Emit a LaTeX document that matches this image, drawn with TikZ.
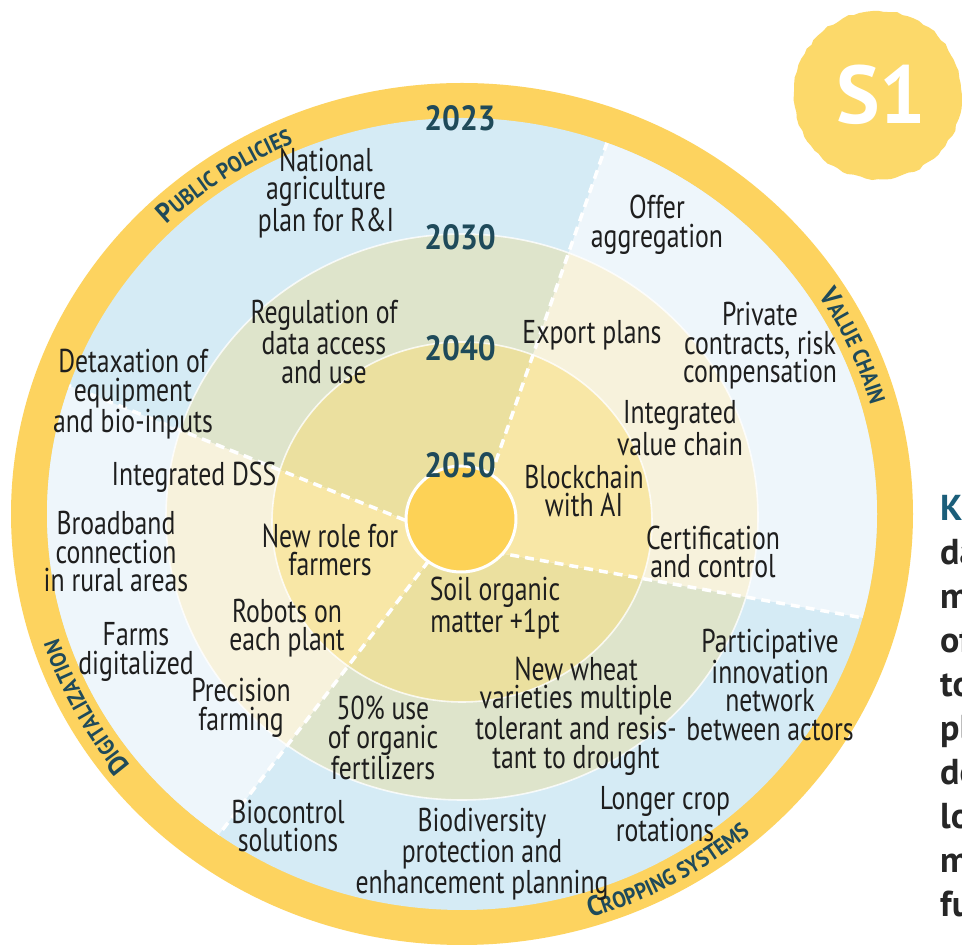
\documentclass[tikz,border=0pt]{standalone}
\usepackage{fontspec}
\setmainfont[FakeStretch=0.78]{PT Sans}
\newfontfamily\yearfont[FakeStretch=0.9]{PT Sans}
\newfontfamily\parafont{PT Sans}
\usetikzlibrary{decorations.text,decorations.pathmorphing}
\definecolor{ringY}{HTML}{FDD35F}
\definecolor{bubbleY}{HTML}{FCD96A}
\definecolor{ppA}{HTML}{D5EBF5}
\definecolor{ppB}{HTML}{DEE4CB}
\definecolor{ppC}{HTML}{EBE09F}
\definecolor{vcA}{HTML}{EEF6FB}
\definecolor{vcB}{HTML}{F7F2DC}
\definecolor{vcC}{HTML}{F8E7A6}
\definecolor{diskY}{HTML}{FDD256}
\definecolor{bodytext}{HTML}{1E1E1E}
\definecolor{yearcol}{HTML}{1F4A5A}
\definecolor{kcol}{HTML}{1B5E7A}
\newcommand\rfbig{\yearfont\bfseries\fontsize{28}{28}\selectfont}
\newcommand\rfsmall{\yearfont\bfseries\fontsize{22.5}{22.5}\selectfont}
\begin{document}
\begin{tikzpicture}[x=1pt,y=1pt,
  txt/.style={align=center, text=bodytext, font=\fontsize{33}{28.5}\selectfont, inner sep=0pt},
  yr/.style={text=yearcol, font=\yearfont\bfseries\fontsize{35}{35}\selectfont, inner sep=0pt},
  bandline/.style={draw=white, line width=1.6pt, opacity=0.8},
  sepline/.style={draw=white, line width=3.5pt, dash pattern=on 9pt off 6pt},
  ringlabel/.style={decorate, decoration={text along path, text align=center, text color=yearcol, text={#1}}}
]
\useasboundingbox (0,0) rectangle (962,948);
\clip (0,0) rectangle (962,948);
\fill[white] (0,0) rectangle (962,948);

% S1 badge
\fill[bubbleY, decorate, decoration={random steps, segment length=6pt, amplitude=1.2pt}] (878,853) circle[radius=84];
\node[text=white, font=\parafont\bfseries\fontsize{82}{82}\selectfont, inner sep=0pt] (s1) at (881,853) {S1};

% outer ring
\fill[ringY] (462,434) ellipse[x radius=451, y radius=431];

% coordinates of sector separators
\coordinate (c12) at (466,401);
\coordinate (b1) at (723,1138);
\coordinate (d2) at (1216,267);
\coordinate (c34) at (447,411);
\coordinate (f4) at (-277,701);
\coordinate (h3) at (7,-163);

\begin{scope}
  \clip (462,434) ellipse[x radius=415, y radius=396];
  \fill[ppA] (0,0) rectangle (962,948);
  \fill[ppB] (462,431) ellipse[x radius=296, y radius=283];
  \fill[ppC] (462,426) ellipse[x radius=190, y radius=180];
  \begin{scope}
    \clip (c12) -- (b1) -- (1216,1138) -- (d2) -- cycle;
    \fill[vcA] (0,0) rectangle (962,948);
    \fill[vcB] (462,431) ellipse[x radius=296, y radius=283];
    \fill[vcC] (462,426) ellipse[x radius=190, y radius=180];
  \end{scope}
  \begin{scope}
    \clip (c34) -- (f4) -- (-277,-163) -- (h3) -- cycle;
    \fill[vcA] (0,0) rectangle (962,948);
    \fill[vcB] (462,431) ellipse[x radius=296, y radius=283];
    \fill[vcC] (462,426) ellipse[x radius=190, y radius=180];
  \end{scope}
  \draw[bandline] (462,431) ellipse[x radius=296, y radius=283];
  \draw[bandline] (462,426) ellipse[x radius=190, y radius=180];
  \draw[sepline] (c12) -- (b1);
  \draw[sepline] (c12) -- (d2);
  \draw[sepline] (c34) -- (f4);
  \draw[sepline] (c34) -- (h3);
\end{scope}

% centre disk
\filldraw[fill=diskY, draw=white, line width=3pt] (461,429) ellipse[x radius=55, y radius=53];

% years
\node[yr] (y2023) at (460,830) {2023};
\node[yr] (y2030) at (460,711) {2030};
\node[yr] (y2040) at (460,600) {2040};
\node[yr] (y2050) at (460,483) {2050};

% ring labels
\path[ringlabel={|\rfbig|P|\rfsmall|UBLIC POLICIES}] (462,434) ++(150:424 and 404) arc[start angle=150, end angle=98, x radius=424, y radius=404];
\path[ringlabel={|\rfbig|V|\rfsmall|ALUE CHAIN}] (462,434) ++(48:424 and 404) arc[start angle=48, end angle=0, x radius=424, y radius=404];
\path[ringlabel={|\rfbig|D|\rfsmall|IGITALIZATION}] (462,434) ++(236:424 and 404) arc[start angle=236, end angle=180, x radius=424, y radius=404];
\path[ringlabel={|\rfbig|C|\rfsmall|ROPPING SYSTEMS}] (462,434) ++(-88:442 and 422) arc[start angle=-88, end angle=-34, x radius=442, y radius=422];

% texts
\node[txt] (nat) at (326,755) {National\\agriculture\\plan for R\&I};
\node[txt] (reg) at (324,606) {Regulation of\\data access\\and use};
\node[txt] (detax) at (133,554) {Detaxation of\\equipment\\and bio-inputs};
\node[txt] (idss) at (194,471) {Integrated DSS};
\node[txt] (broad) at (116,396) {Broadband\\connection\\in rural areas};
\node[txt] (newrole) at (330,398) {New role for\\farmers};
\node[txt] (robots) at (287,320) {Robots on\\each plant};
\node[txt] (farms) at (136,296) {Farms\\digitalized};
\node[txt] (precision) at (241,240) {Precision\\farming};
\node[txt] (fifty) at (383,210) {50\% use\\of organic\\fertilizers};
\node[txt] (bioc) at (288,122) {Biocontrol\\solutions};
\node[txt] (biodiv) at (482,94) {Biodiversity\\protection and\\enhancement planning};
\node[txt] (longer) at (665,134) {Longer crop\\rotations};
\node[txt] (wheat) at (576,232) {New wheat\\varieties multiple\\tolerant and resis-\\tant to drought};
\node[txt] (partic) at (770,263) {Participative\\innovation\\network\\between actors};
\node[txt] (soil) at (495,340) {Soil organic\\matter +1pt};
\node[txt] (cert) at (713,396) {Certification\\and control};
\node[txt] (block) at (584,457) {Blockchain\\with AI};
\node[txt] (intvc) at (680,520) {Integrated\\value chain};
\node[txt] (export) at (592,613) {Export plans};
\node[txt] (private) at (760,602) {Private\\contracts, risk\\compensation};
\node[txt] (offer) at (657,723) {Offer\\aggregation};

% cut-off paragraph at right edge
\node[anchor=north west, align=left, inner sep=0pt, text=black!85, font=\parafont\bfseries\fontsize{36}{44}\selectfont] (para) at (940,453) {\textcolor{kcol}{K}\\da\\m\\of\\to\\pl\\de\\lo\\m\\fu};
\end{tikzpicture}
\end{document}
